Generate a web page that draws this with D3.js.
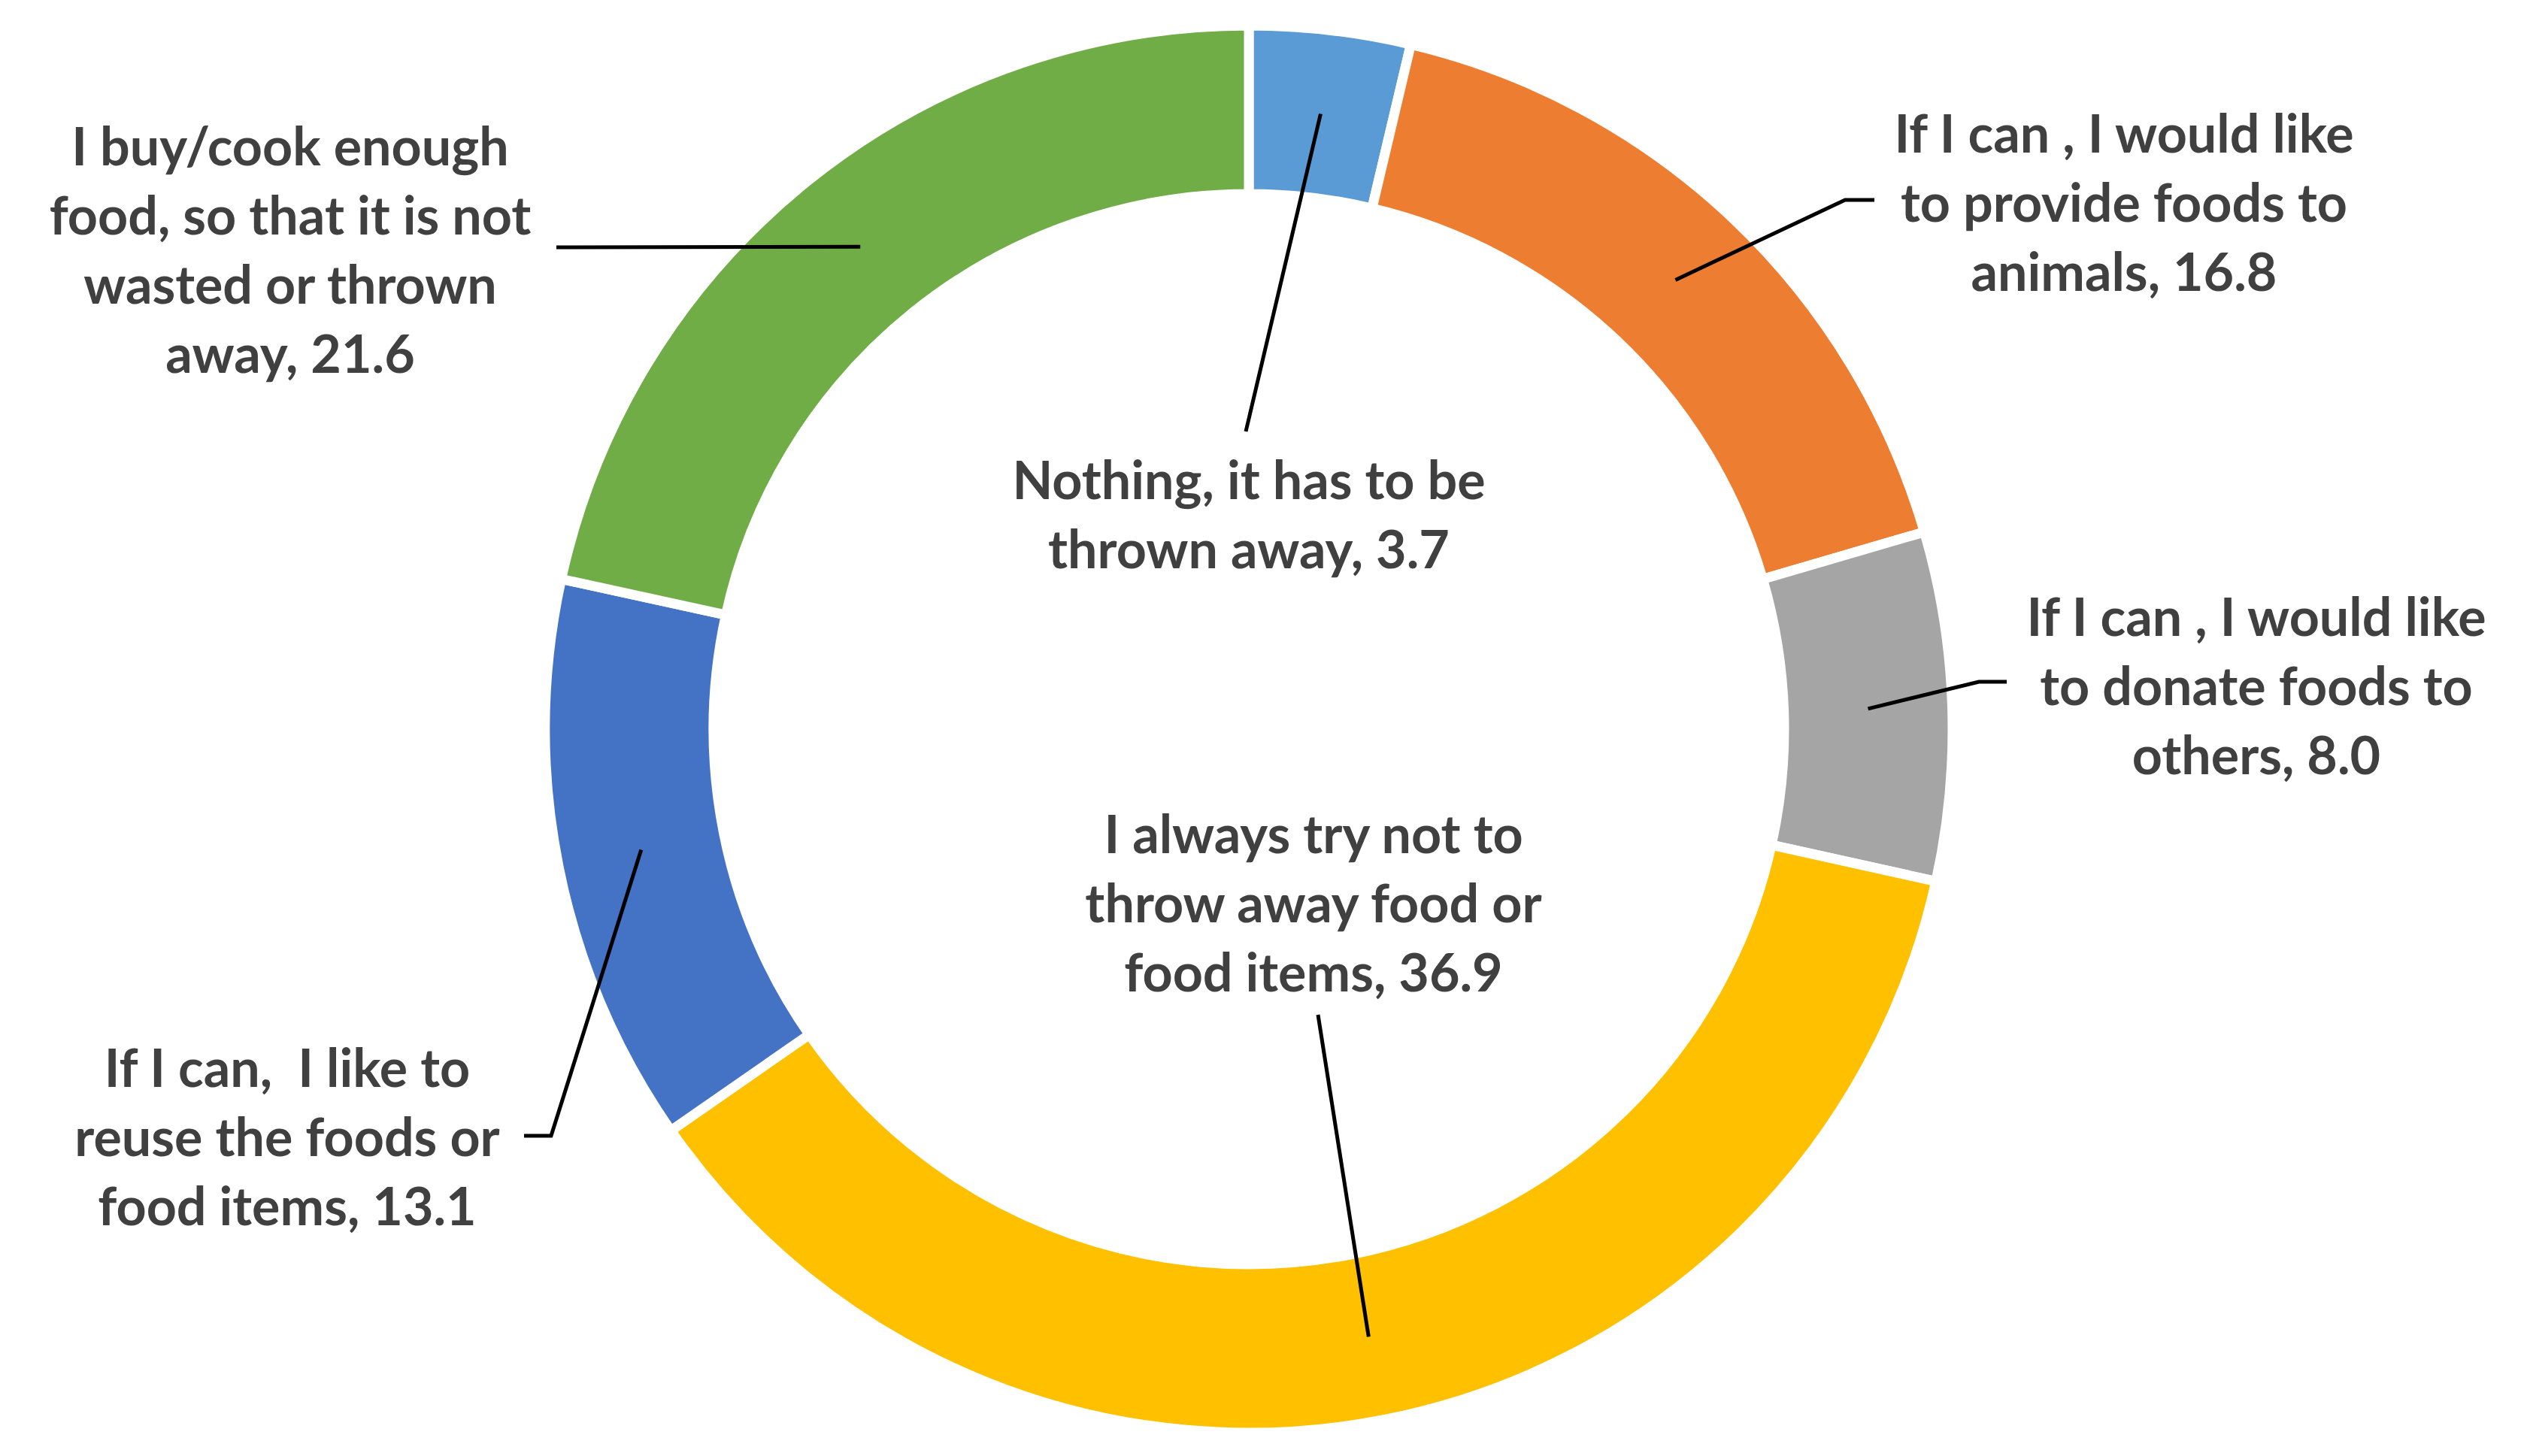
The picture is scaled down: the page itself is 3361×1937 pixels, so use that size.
<!DOCTYPE html>
<html>
<head>
<meta charset="utf-8">
<script src="https://cdn.jsdelivr.net/npm/d3@7"></script>
<style>
	html, body { margin: 0; padding: 0; background: #fff; }
	svg { display: block; }
</style>
</head>
<body>
<div id="chart"></div>
<script>
"use strict";

// answers, clockwise from 12 o'clock
var categories = [
	"Nothing, it has to be thrown away",
	"If I can , I would like to provide foods to animals",
	"If I can , I would like to donate foods to others",
	"I always try not to throw away food or food items",
	"If I can,  I like to reuse the foods or food items",
	"I buy/cook enough food, so that it is not wasted or thrown away"
];
var values = [3.7, 16.8, 8.0, 36.9, 13.1, 21.6];

// how the data label text is broken into lines (as in the original)
var labelLines = [
	["Nothing, it has to be", "thrown away, 3.7"],
	["If I can , I would like", "to provide foods to", "animals, 16.8"],
	["If I can , I would like", "to donate foods to", "others, 8.0"],
	["I always try not to", "throw away food or", "food items, 36.9"],
	["If I can,  I like to", "reuse the foods or", "food items, 13.1"],
	["I buy/cook enough", "food, so that it is not", "wasted or thrown", "away, 21.6"]
];

var colors = ["#5B9BD5", "#ED7D31", "#A5A5A5", "#FFC000", "#4472C4", "#70AD47"];

// label placement: text centre x, first line centre y, leader bend points
var labelLayout = [
	{x: 1661, y: 639, leader: [[1657, 574]]},
	{x: 2825, y: 178, leader: [[2454, 266], [2493, 266]]},
	{x: 3001, y: 821, leader: [[2632, 907], [2669, 907]]},
	{x: 1747, y: 1110, leader: [[1753, 1350]]},
	{x: 382, y: 1421, leader: [[733, 1511], [697, 1511]]},
	{x: 386, y: 195, leader: [[740, 329]]}
];

var W = 3361, H = 1937;
var cx = 1661, cy = 970;
var outerR = 936, innerR = 712;
var lineStep = 92;

var svg = d3.select("#chart").append("svg")
	.attr("width", W).attr("height", H);

var g = svg.append("g").attr("transform", "translate(" + cx + "," + cy + ")");

var data = values.map(function(v, i) { return {name: categories[i], value: v, idx: i}; });

var pie = d3.pie()
	.sort(null)
	.value(function(d) { return d.value; });

var arc = d3.arc().innerRadius(innerR).outerRadius(outerR);

var arcs = pie(data);

g.selectAll(".slice")
	.data(arcs)
	.enter().append("path")
	.attr("class", "slice")
	.attr("d", arc)
	.attr("fill", function(d) { return colors[d.data.idx]; })
	.attr("stroke", "#fff")
	.attr("stroke-width", 13)
	.attr("stroke-linejoin", "miter");

// leader lines start at the slice centroid
var line = d3.line();
svg.selectAll(".leader")
	.data(arcs)
	.enter().append("path")
	.attr("class", "leader")
	.attr("fill", "none")
	.attr("stroke", "#000")
	.attr("stroke-width", 5)
	.attr("d", function(d) {
		var c = arc.centroid(d);
		var pts = [[cx + c[0], cy + c[1]]].concat(labelLayout[d.data.idx].leader);
		return line(pts);
	});

var labels = svg.selectAll(".lbl")
	.data(arcs)
	.enter().append("text")
	.attr("class", "lbl")
	.attr("text-anchor", "middle")
	.style("white-space", "pre")
	.style("font-family", "Lato, 'Open Sans', sans-serif")
	.style("font-weight", "bold")
	.style("font-size", "70px")
	.attr("fill", "#404040");

labels.each(function(d) {
	var lay = labelLayout[d.data.idx];
	var t = d3.select(this);
	labelLines[d.data.idx].forEach(function(s, k) {
		t.append("tspan")
			.attr("x", lay.x)
			.attr("y", lay.y + k * lineStep + 25)
			.text(s);
	});
});
</script>
</body>
</html>
